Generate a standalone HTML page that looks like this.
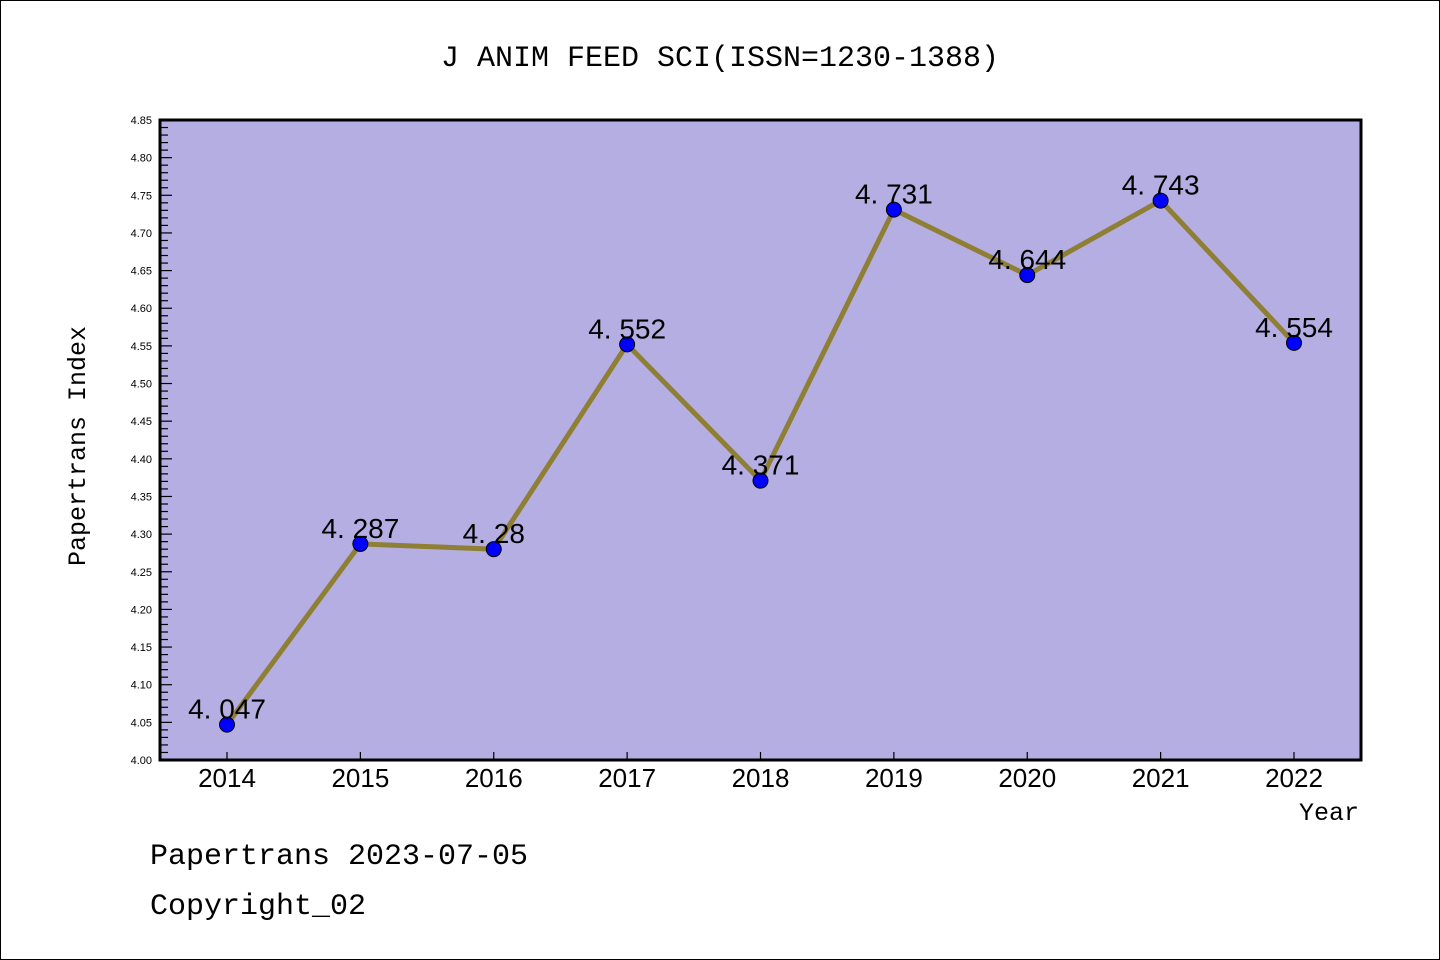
<!DOCTYPE html>
<html><head><meta charset="utf-8"><style>
body{margin:0;background:#fff}
svg{display:block;font-family:"Liberation Mono","DejaVu Sans Mono",monospace}
</style></head><body>
<svg id="chart" width="1440" height="960">
<rect x="0.5" y="0.5" width="1439" height="959" fill="#fff" stroke="#000"/>
<text x="720" y="66" font-size="30" text-anchor="middle">J ANIM FEED SCI(ISSN=1230-1388)</text>
<rect x="160" y="120" width="1201" height="640" fill="#b5aee2"/>
<g id="ticks"></g>
<g id="series"></g>
<rect x="160" y="120" width="1201" height="640" fill="none" stroke="#000" stroke-width="3"/>
<text x="85" y="446" font-size="25" text-anchor="middle" transform="rotate(-90 85 446)">Papertrans Index</text>
<text x="1359" y="820" font-size="25" text-anchor="end">Year</text>
<text x="150" y="864" font-size="30">Papertrans 2023-07-05</text>
<text x="150" y="914" font-size="30">Copyright_02</text>
</svg>
<script>
const years=[2014,2015,2016,2017,2018,2019,2020,2021,2022];
const values=[4.047,4.287,4.28,4.552,4.371,4.731,4.644,4.743,4.554];
const labels=["4.047","4.287","4.28","4.552","4.371","4.731","4.644","4.743","4.554"];
const yTicks=["4.00","4.05","4.10","4.15","4.20","4.25","4.30","4.35","4.40","4.45","4.50","4.55","4.60","4.65","4.70","4.75","4.80","4.85"];
const NS="http://www.w3.org/2000/svg";
const yMin=4.0,yMax=4.85;
const Y=v=>760-(v-yMin)/(yMax-yMin)*640;
const X=i=>227+i*(1294-227)/(years.length-1);
function mk(t,a,p){const e=document.createElementNS(NS,t);for(const k in a)e.setAttribute(k,a[k]);p.appendChild(e);return e;}
const tg=document.getElementById('ticks'),sg=document.getElementById('series');
for(let k=0;k<=85;k++){const v=yMin+k*0.01;const y=Y(v);const major=k%5===0;
 const l=mk('line',{x1:160,x2:160+(major?12:8),y1:y,y2:y,stroke:'#000','stroke-width':1.2},tg);
 
 }
yTicks.forEach(s=>{const t=mk('text',{x:152,y:Y(parseFloat(s))+4,'font-size':11,'text-anchor':'end','font-family':'Liberation Sans, sans-serif'},tg);t.textContent=s;
 
 });
years.forEach((yr,i)=>{const l=mk('line',{x1:X(i),x2:X(i),y1:760,y2:752,stroke:'#000','stroke-width':1.2},tg);
 
 
 const t=mk('text',{x:X(i),y:787,'font-size':26,'text-anchor':'middle','font-family':'Liberation Sans, sans-serif'},tg);t.textContent=yr;
 
 });
const pl=mk('polyline',{points:values.map((v,i)=>X(i)+','+Y(v)).join(' '),fill:'none',stroke:'#8f7f34','stroke-width':5},sg);


values.forEach((v,i)=>{const c=mk('circle',{cx:X(i),cy:Y(v),r:7.5,fill:'#0000ff',stroke:'#000','stroke-width':1},sg);
 
 
 const t=mk('text',{x:X(i),y:Y(v)-6,'font-size':28,'text-anchor':'middle','font-family':'Liberation Sans, sans-serif'},sg);t.textContent=labels[i].replace('.','. ');
 
 });
</script>
</body></html>
